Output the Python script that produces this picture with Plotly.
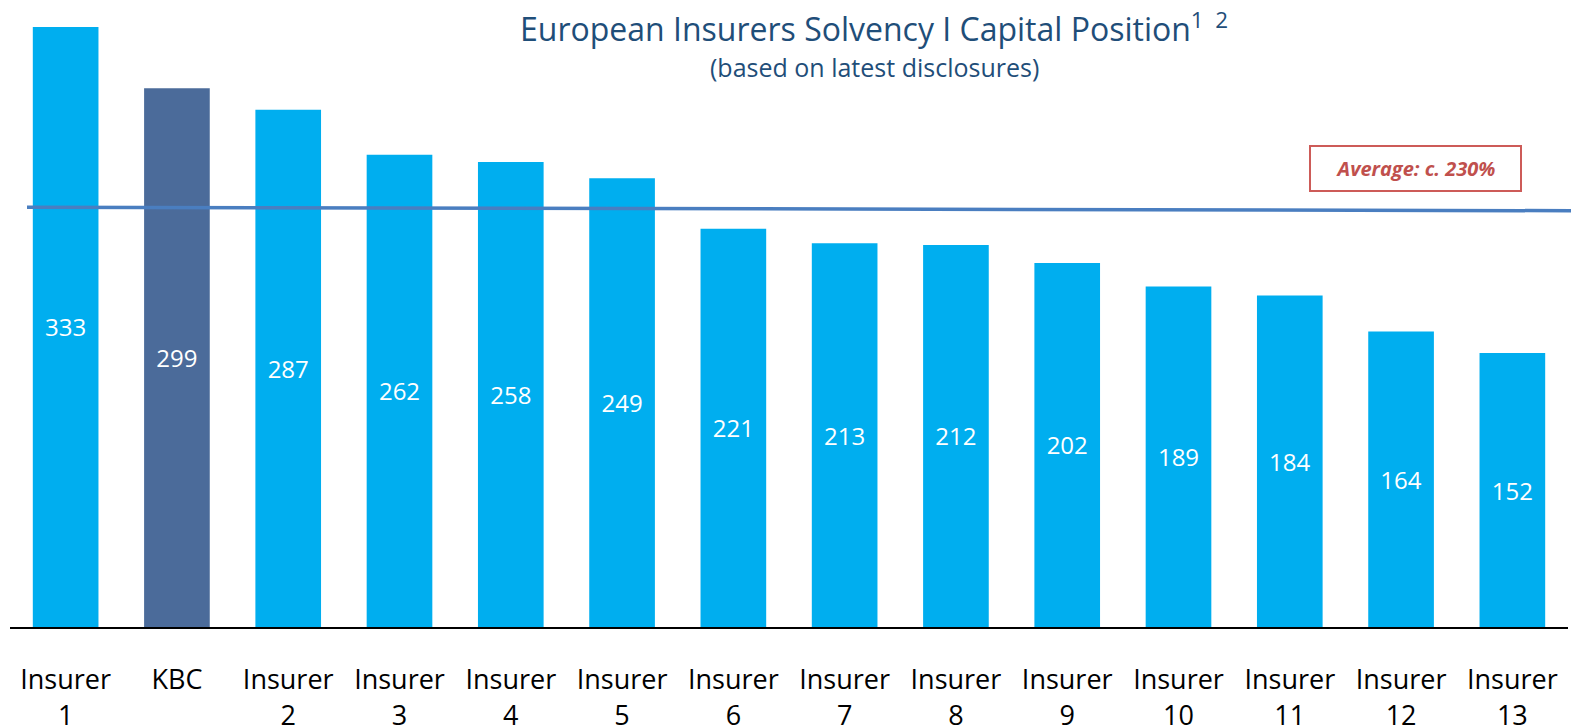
import plotly.graph_objects as go

categories = ["Insurer<br>1", "KBC", "Insurer<br>2", "Insurer<br>3", "Insurer<br>4", "Insurer<br>5",
              "Insurer<br>6", "Insurer<br>7", "Insurer<br>8", "Insurer<br>9", "Insurer<br>10",
              "Insurer<br>11", "Insurer<br>12", "Insurer<br>13"]
values = [333, 299, 287, 262, 258, 249, 221, 213, 212, 202, 189, 184, 164, 152]
highlight = "KBC"
average_line = [233, 231]  # left end, right end (slightly sloped as drawn)
average_label = "Average: c. 230%"
title_text = "European Insurers Solvency I Capital Position<sup>1  2</sup>"
subtitle_text = "(based on latest disclosures)"

FONT = "Open Sans"
colors = ["#4B6B9A" if c == highlight else "#00AEEF" for c in categories]

# page has an 8px body margin; size figure to fit the window
OFF = 8
W, H = 1571, 719
ml, mr, mt, mb = 2, 11, 0, 100
PW, PH = W - ml - mr, H - mt - mb


def px(x):
    return (x - OFF - ml) / PW


def py(y):
    return 1 - (y - OFF - mt) / PH


fig = go.Figure()
fig.add_trace(go.Bar(
    x=categories, y=values,
    marker=dict(color=colors, line=dict(width=0)),
    text=[str(v) for v in values],
    textposition="inside", insidetextanchor="middle",
    textfont=dict(family=FONT, size=24, color="white"),
    cliponaxis=False,
))

fig.add_shape(type="line", xref="paper", yref="y",
              x0=px(27), x1=px(1571), y0=average_line[0], y1=average_line[1],
              line=dict(color="#4A7EC0", width=3.5), layer="above")

fig.add_annotation(text="<b><i>" + average_label + "</i></b>",
                   xref="paper", yref="paper",
                   x=px(1415), y=py(168),
                   xanchor="center", yanchor="middle", showarrow=False,
                   font=dict(family=FONT, size=20, color="#C0504D"),
                   bordercolor="#CD5B58", borderwidth=2, borderpad=1,
                   width=207, height=41, bgcolor="white")

fig.add_annotation(text=title_text, xref="paper", yref="paper",
                   x=px(874), y=py(27),
                   xanchor="center", yanchor="middle", showarrow=False,
                   font=dict(family=FONT, size=32, color="#1F4E79"))
fig.add_annotation(text=subtitle_text, xref="paper", yref="paper",
                   x=px(874), y=py(67),
                   xanchor="center", yanchor="middle", showarrow=False,
                   font=dict(family=FONT, size=25, color="#1F4E79"))

fig.update_layout(
    width=W, height=H,
    margin=dict(l=ml, r=mr, t=mt, b=mb, autoexpand=False),
    plot_bgcolor="white", paper_bgcolor="white",
    bargap=0.41, showlegend=False,
    font=dict(family=FONT),
)
fig.update_xaxes(showline=True, linecolor="black", linewidth=2, automargin=False,
                 showgrid=False, ticks="", ticklabelstandoff=28,
                 tickfont=dict(family=FONT, size=27, color="black"))
fig.update_yaxes(range=[0, 343.5], visible=False, showgrid=False, zeroline=False,
                 automargin=False)

fig.write_html("out.html")
